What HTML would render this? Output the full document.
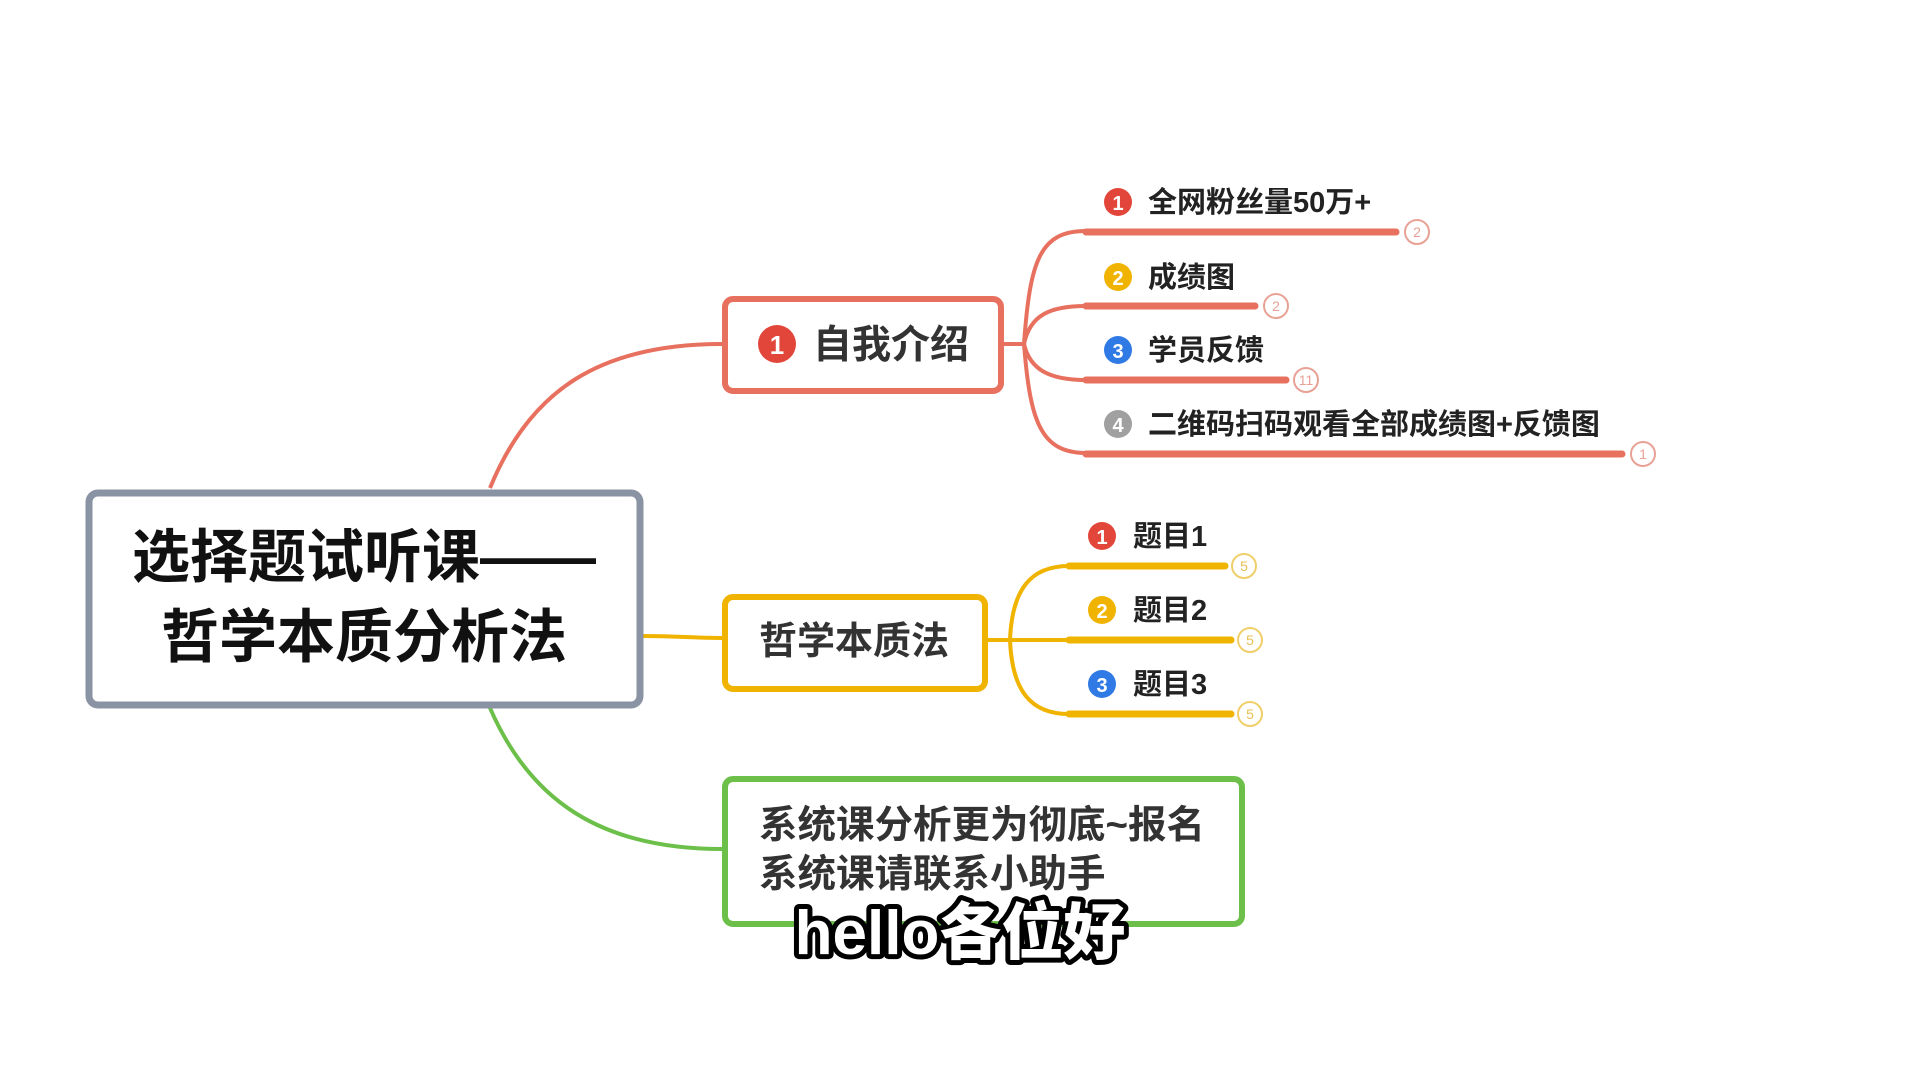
<!DOCTYPE html>
<html><head><meta charset="utf-8"><style>
html,body{margin:0;padding:0;background:#fff;width:1920px;height:1080px;overflow:hidden}
svg text{font-family:"Liberation Sans","Noto Sans CJK SC",sans-serif;font-weight:bold}
</style></head><body>
<svg width="1920" height="1080" viewBox="0 0 1920 1080" xmlns="http://www.w3.org/2000/svg">
<path d="M490,488 C530,390 600,344 722,344" fill="none" stroke="#e8705f" stroke-width="4"/>
<path d="M643,636 C680,636 690,638 722,638" fill="none" stroke="#f0b400" stroke-width="4"/>
<path d="M490,708 C530,800 600,849 722,849" fill="none" stroke="#6cc04a" stroke-width="4"/>

<g fill="none" stroke="#e8705f" stroke-width="4">
<path d="M1004,344 L1024,344"/>
<path d="M1024,344 C1030,260 1040,231 1086,231"/>
<path d="M1024,344 C1030,315 1050,306 1086,306"/>
<path d="M1024,344 C1030,370 1050,380 1086,380"/>
<path d="M1024,344 C1030,420 1040,453 1086,453"/>
</g>
<g stroke="#e8705f" stroke-width="7" stroke-linecap="round">
<line x1="1086" y1="232" x2="1396" y2="232"/>
<line x1="1086" y1="306" x2="1255" y2="306"/>
<line x1="1086" y1="380" x2="1286" y2="380"/>
<line x1="1086" y1="454" x2="1622" y2="454"/>
</g>
<g fill="#fff" stroke="#e8a195" stroke-width="2">
<circle cx="1417" cy="232" r="12"/><circle cx="1276" cy="306" r="12"/>
<circle cx="1306" cy="380" r="12"/><circle cx="1643" cy="454" r="12"/>
</g>
<g fill="#e8a195" font-size="14" text-anchor="middle">
<text x="1417" y="237" style="font-weight:normal">2</text><text x="1276" y="311" style="font-weight:normal">2</text>
<text x="1306" y="385" style="font-weight:normal">11</text><text x="1643" y="459" style="font-weight:normal">1</text>
</g>
<circle cx="1118" cy="202" r="14" fill="#e2463a"/><text x="1118" y="210" fill="#fff" font-size="20" text-anchor="middle">1</text>
<circle cx="1118" cy="277" r="14" fill="#f0b400"/><text x="1118" y="285" fill="#fff" font-size="20" text-anchor="middle">2</text>
<circle cx="1118" cy="350" r="14" fill="#2f7ae5"/><text x="1118" y="358" fill="#fff" font-size="20" text-anchor="middle">3</text>
<circle cx="1118" cy="424" r="14" fill="#a0a0a0"/><text x="1118" y="432" fill="#fff" font-size="20" text-anchor="middle">4</text>
<g font-size="29" fill="#222">
<text x="1148" y="212">全网粉丝量50万+</text>
<text x="1148" y="287">成绩图</text>
<text x="1148" y="360">学员反馈</text>
<text x="1148" y="434">二维码扫码观看全部成绩图+反馈图</text>
</g>

<g fill="none" stroke="#f0b400" stroke-width="4">
<path d="M988,640 L1010,640"/>
<path d="M1010,640 C1012,590 1030,566 1069,566"/>
<path d="M1010,640 L1069,640"/>
<path d="M1010,640 C1012,690 1030,714 1069,714"/>
</g>
<g stroke="#f0b400" stroke-width="7" stroke-linecap="round">
<line x1="1069" y1="566" x2="1225" y2="566"/>
<line x1="1069" y1="640" x2="1231" y2="640"/>
<line x1="1069" y1="714" x2="1231" y2="714"/>
</g>
<g fill="#fff" stroke="#f0cf6a" stroke-width="2">
<circle cx="1244" cy="566" r="12"/><circle cx="1250" cy="640" r="12"/><circle cx="1250" cy="714" r="12"/>
</g>
<g fill="#e8c050" font-size="14" text-anchor="middle">
<text x="1244" y="571" style="font-weight:normal">5</text><text x="1250" y="645" style="font-weight:normal">5</text><text x="1250" y="719" style="font-weight:normal">5</text>
</g>
<circle cx="1102" cy="536" r="14" fill="#e2463a"/><text x="1102" y="544" fill="#fff" font-size="20" text-anchor="middle">1</text>
<circle cx="1102" cy="610" r="14" fill="#f0b400"/><text x="1102" y="618" fill="#fff" font-size="20" text-anchor="middle">2</text>
<circle cx="1102" cy="684" r="14" fill="#2f7ae5"/><text x="1102" y="692" fill="#fff" font-size="20" text-anchor="middle">3</text>
<g font-size="29" fill="#222">
<text x="1133" y="546">题目1</text><text x="1133" y="620">题目2</text><text x="1133" y="694">题目3</text>
</g>

<rect x="89" y="493" width="551" height="212" rx="9" fill="#fff" stroke="#8a93a3" stroke-width="7"/>
<text x="364" y="577" font-size="58" fill="#111" text-anchor="middle">选择题试听课——</text>
<text x="364" y="657" font-size="58" fill="#111" text-anchor="middle">哲学本质分析法</text>

<rect x="725" y="299" width="276" height="92" rx="8" fill="#fff" stroke="#e8705f" stroke-width="6"/>
<circle cx="777" cy="344" r="19" fill="#e2463a"/><text x="777" y="354" fill="#fff" font-size="26" text-anchor="middle">1</text>
<text x="813" y="358" font-size="39" fill="#333">自我介绍</text>

<rect x="725" y="597" width="260" height="92" rx="8" fill="#fff" stroke="#f0b400" stroke-width="6"/>
<text x="759" y="654" font-size="38" fill="#333">哲学本质法</text>

<rect x="725" y="779" width="517" height="145" rx="8" fill="#fff" stroke="#6cc04a" stroke-width="6"/>
<text x="759" y="838" font-size="38.5" fill="#333">系统课分析更为彻底~报名</text>
<text x="759" y="887" font-size="38.5" fill="#333">系统课请联系小助手</text>

<text x="960" y="954" font-size="62" fill="#fff" stroke="#000" stroke-width="10" stroke-linejoin="round" paint-order="stroke" text-anchor="middle" style="font-weight:900">hello各位好</text>
</svg>
</body></html>
